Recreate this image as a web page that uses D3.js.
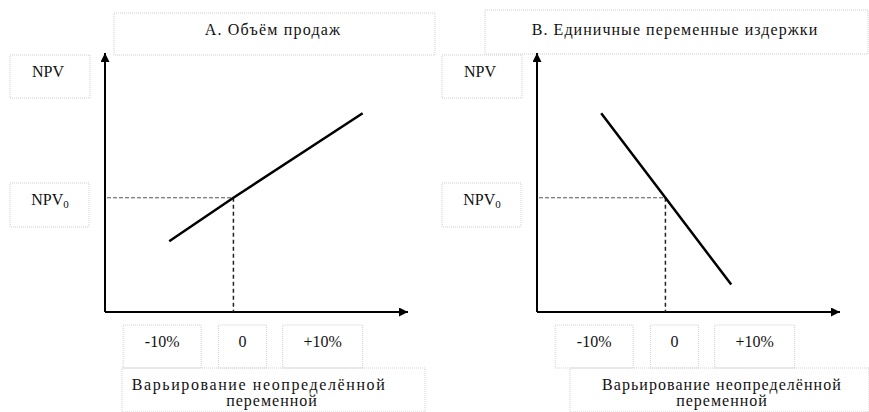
<!DOCTYPE html>
<html>
<head>
<meta charset="utf-8">
<script src="https://cdn.jsdelivr.net/npm/d3@7"></script>
<style>
  body { margin: 0; background: #fff; }
</style>
</head>
<body>
<div id="chart"></div>
<script>
// data (NPV as index, NPV0 = 100; x as % change)
var titles = ["А. Объём продаж", "В. Единичные переменные издержки"];
var tickValues = [-10, 0, 10];
var tickLabels = ["-10%", "0", "+10%"];
var salesX = [-8, 0, 16.1];
var salesNPV = [62, 100, 174];
var costX = [-8, 0, 8.2];
var costNPV = [174, 100, 24];
var npvBase = 100;
var xLabel = ["Варьирование неопределённой", "переменной"];

var width = 869, height = 412;
var serif = "'Liberation Serif', 'Times New Roman', serif";

var svg = d3.select("#chart").append("svg")
    .attr("width", width)
    .attr("height", height);

svg.append("defs").append("marker")
    .attr("id", "arrow")
    .attr("viewBox", "0 0 10 10")
    .attr("refX", 10).attr("refY", 5)
    .attr("markerUnits", "userSpaceOnUse")
    .attr("markerWidth", 11).attr("markerHeight", 9)
    .attr("orient", "auto")
  .append("path")
    .attr("d", "M0,0L10,5L0,10z")
    .attr("fill", "#000");

// panel layout: offsets, boxes and letter spacing of the scanned texts
var panels = [
  {ox: 0, title: titles[0], xs: salesX, ys: salesNPV, titleLS: 1.2, capLS: [1.6, 1.0],
   titleBox: [114, 13, 321, 42], titleX: 273, captionBox: [122, 368, 303, 44], captionX: [259, 272]},
  {ox: 432, title: titles[1], xs: costX, ys: costNPV, titleLS: 1.05, capLS: [1.05, 1.0],
   titleBox: [485, 10, 383, 44], titleX: 675, captionBox: [570, 368, 299, 44], captionX: [722, 722]}
];

var tickBoxW = [78, 48, 80];
var boxColor = "#cfcfcf";

function label(g, x, y, s, size) {
    return g.append("text")
        .attr("x", x).attr("y", y)
        .attr("text-anchor", "middle")
        .style("font-family", serif)
        .style("font-size", (size || 16) + "px")
        .style("fill", "#111")
        .text(s);
}

panels.forEach(function(p) {
    var g = svg.append("g");

    var x = d3.scaleLinear().domain([-16, 22]).range([105 + p.ox, 410 + p.ox]);
    var y = d3.scaleLinear().domain([0, 225]).range([312, 55]);

    // dotted label boxes
    function box(b) {
        g.append("rect")
            .attr("x", b[0]).attr("y", b[1])
            .attr("width", b[2]).attr("height", b[3])
            .attr("fill", "none")
            .attr("stroke", boxColor)
            .attr("stroke-width", 1)
            .attr("stroke-dasharray", "1,1");
    }
    box(p.titleBox);
    box([10 + p.ox, 55, 80, 43]);
    box([10 + p.ox, 183, 79, 44]);
    tickValues.forEach(function(v, i) {
        box([x(v) + 9 - tickBoxW[i] / 2, 325, tickBoxW[i], 43]);
    });
    box(p.captionBox);

    // axes with arrows
    g.append("line")
        .attr("x1", x(-16)).attr("y1", y(0))
        .attr("x2", x(-16)).attr("y2", y(225) - 2)
        .attr("stroke", "#000").attr("stroke-width", 2)
        .attr("marker-end", "url(#arrow)");
    g.append("line")
        .attr("x1", x(-16)).attr("y1", y(0))
        .attr("x2", x(22) - 2).attr("y2", y(0))
        .attr("stroke", "#000").attr("stroke-width", 2)
        .attr("marker-end", "url(#arrow)");

    // NPV0 guide lines
    g.append("line")
        .attr("x1", x(-16) + 2).attr("y1", y(npvBase))
        .attr("x2", x(0)).attr("y2", y(npvBase))
        .attr("stroke", "#555").attr("stroke-width", 1)
        .attr("stroke-dasharray", "4,2");
    g.append("line")
        .attr("x1", x(0)).attr("y1", y(npvBase))
        .attr("x2", x(0)).attr("y2", y(0))
        .attr("stroke", "#222").attr("stroke-width", 1.5)
        .attr("stroke-dasharray", "4,3");

    // sensitivity line
    var line = d3.line()
        .x(function(d) { return x(d[0]); })
        .y(function(d) { return y(d[1]); });
    g.append("path")
        .datum(d3.zip(p.xs, p.ys))
        .attr("d", line)
        .attr("fill", "none")
        .attr("stroke", "#000")
        .attr("stroke-width", 2.5);

    // texts
    label(g, p.titleX, 35, p.title).style("letter-spacing", p.titleLS + "px");
    label(g, 48 + p.ox, 77, "NPV");

    var t0 = label(g, 50 + p.ox, 205, "NPV");
    t0.append("tspan").attr("dy", 3).style("font-size", "11px").text("0");

    tickValues.forEach(function(v, i) {
        label(g, x(v) + 9, 347, tickLabels[i]);
    });

    xLabel.forEach(function(s, i) {
        label(g, p.captionX[i], 390 + i * 16, s).style("letter-spacing", p.capLS[i] + "px");
    });
});
</script>
</body>
</html>
